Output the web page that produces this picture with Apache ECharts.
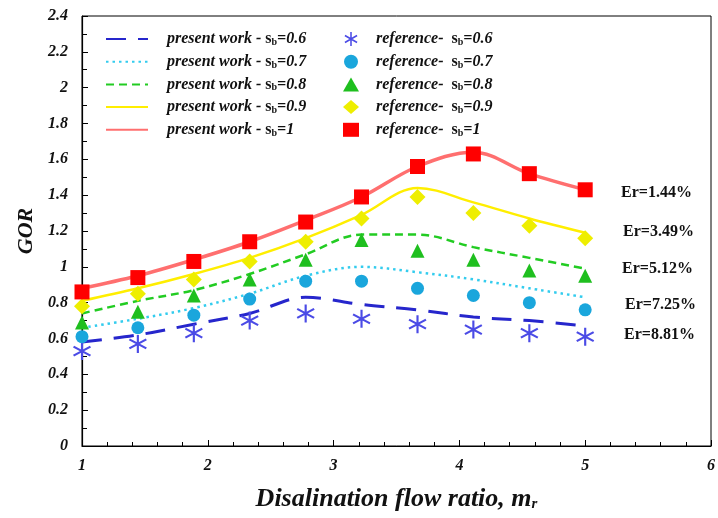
<!DOCTYPE html>
<html>
<head>
<meta charset="utf-8">
<script src="https://cdn.jsdelivr.net/npm/echarts@6/dist/echarts.min.js"></script>
<style>
html, body { margin: 0; padding: 0; background: #fff; }
#chart { width: 718px; height: 518px; }
</style>
</head>
<body>
<div id="chart"></div>
<script>
// mass flow ratio points
const mr = [1, 1.444, 1.889, 2.333, 2.778, 3.222, 3.667, 4.111, 4.556, 5];
const sbLevels = ['0.6', '0.7', '0.8', '0.9', '1'];

// present work (curves)
const present06 = [0.58, 0.62, 0.68, 0.74, 0.83, 0.79, 0.76, 0.72, 0.70, 0.67];
const present07 = [0.66, 0.71, 0.77, 0.85, 0.95, 1.00, 0.97, 0.93, 0.88, 0.83];
const present08 = [0.74, 0.81, 0.87, 0.96, 1.07, 1.18, 1.18, 1.11, 1.05, 0.99];
const present09 = [0.81, 0.88, 0.96, 1.05, 1.16, 1.29, 1.44, 1.36, 1.27, 1.19];
const present10 = [0.88, 0.95, 1.04, 1.14, 1.26, 1.39, 1.56, 1.64, 1.52, 1.43];

// reference (markers)
const ref06 = [0.53, 0.57, 0.63, 0.70, 0.74, 0.71, 0.68, 0.65, 0.63, 0.61];
const ref07 = [0.61, 0.66, 0.73, 0.82, 0.92, 0.92, 0.88, 0.84, 0.80, 0.76];
const ref08 = [0.69, 0.75, 0.84, 0.93, 1.04, 1.15, 1.09, 1.04, 0.98, 0.95];
const ref09 = [0.78, 0.85, 0.93, 1.03, 1.14, 1.27, 1.39, 1.30, 1.23, 1.16];
const ref10 = [0.86, 0.94, 1.03, 1.14, 1.25, 1.39, 1.56, 1.63, 1.52, 1.43];

const errLabels = ['Er=1.44%', 'Er=3.49%', 'Er=5.12%', 'Er=7.25%', 'Er=8.81%'];

const presentData = [present06, present07, present08, present09, present10];
const refData = [ref06, ref07, ref08, ref09, ref10];

// asterisk symbol (three thin bars)
function asterisk () {
  let d = '';
  [90, 30, 150].forEach(function (deg) {
    let t = deg * Math.PI / 180, L = 10, w = 1.1;
    let dx = Math.cos(t), dy = Math.sin(t), nx = -dy, ny = dx;
    let p = [
      [dx * L + nx * w, dy * L + ny * w],
      [dx * L - nx * w, dy * L - ny * w],
      [-dx * L - nx * w, -dy * L - ny * w],
      [-dx * L + nx * w, -dy * L + ny * w]
    ];
    d += 'M' + p.map(function (q) { return q[0].toFixed(2) + ',' + q[1].toFixed(2); }).join('L') + 'Z';
  });
  return 'path://' + d;
}

const lineStyles = [
  { color: '#2626cc', width: 3, type: [20, 12] },
  { color: '#33ccee', width: 2.5, type: [2.5, 4] },
  { color: '#22cc22', width: 2.5, type: [8, 5] },
  { color: '#ffee00', width: 2.5, type: 'solid' },
  { color: '#ff6f6f', width: 3.5, type: 'solid' }
];
const markers = [
  { symbol: asterisk(), size: 18, color: '#4b4be6' },
  { symbol: 'circle', size: 13, color: '#1aa6dc' },
  { symbol: 'triangle', size: 14, color: '#1fbf1f' },
  { symbol: 'diamond', size: 16, color: '#eeee00' },
  { symbol: 'rect', size: 15, color: '#ff0000' }
];

const presentNames = sbLevels.map(function (s) { return 'present work - s_b=' + s; });
const refNames = sbLevels.map(function (s) { return 'reference-  s_b=' + s; });

let series = [];
presentData.forEach(function (vals, i) {
  series.push({
    name: presentNames[i],
    type: 'line',
    smooth: 0.35,
    symbol: 'none',
    data: mr.map(function (x, k) { return [x, vals[k]]; }),
    lineStyle: lineStyles[i],
    itemStyle: { color: lineStyles[i].color },
    z: 2
  });
});
refData.forEach(function (vals, i) {
  series.push({
    name: refNames[i],
    type: 'scatter',
    symbol: markers[i].symbol,
    symbolSize: markers[i].size,
    data: mr.map(function (x, k) { return [x, vals[k]]; }),
    itemStyle: { color: markers[i].color, opacity: 1 },
    z: 3
  });
});

const serifFont = '"Liberation Serif", "Times New Roman", serif';
const legendRich = {
  t: { fontFamily: serifFont, fontStyle: 'italic', fontWeight: 'bold', fontSize: 16, color: '#111' },
  s: { fontFamily: serifFont, fontWeight: 'bold', fontSize: 16, color: '#111' },
  sub: { fontFamily: serifFont, fontWeight: 'bold', fontSize: 10, color: '#111', padding: [7, 0, 0, 0] }
};
function legendFmt (name) {
  let parts = name.split('s_b=');
  return '{t|' + parts[0] + '}{s|s}{sub|b}{t|=' + parts[1] + '}';
}

let myChart = echarts.init(document.getElementById('chart'));
myChart.setOption({
  backgroundColor: '#fff',
  animation: false,
  grid: {
    left: 82, right: 6, top: 16, bottom: 72,
    show: true, borderColor: '#000', borderWidth: 1
  },
  legend: [{
    data: presentNames,
    orient: 'vertical',
    left: 100, top: 26,
    itemWidth: 42, itemHeight: 14, itemGap: 6.2,
    itemStyle: { opacity: 0 },
    formatter: legendFmt,
    textStyle: { padding: [0, 0, 0, 14], rich: legendRich }
  }, {
    data: refNames,
    orient: 'vertical',
    left: 338, top: 26,
    itemWidth: 16, itemHeight: 14, itemGap: 6.2,
    formatter: legendFmt,
    textStyle: { padding: [0, 0, 0, 12], rich: legendRich }
  }],
  xAxis: {
    type: 'value',
    min: 1, max: 6, interval: 1,
    name: 'Disalination flow ratio, m{sub|r}',
    nameLocation: 'middle',
    nameGap: 40,
    nameTextStyle: {
      fontFamily: serifFont, fontStyle: 'italic', fontWeight: 'bold', fontSize: 26, color: '#111',
      rich: { sub: { fontFamily: serifFont, fontStyle: 'italic', fontWeight: 'bold', fontSize: 15, padding: [11, 0, 0, 0], color: '#111' } }
    },
    axisLine: { lineStyle: { color: '#000', width: 1.2 } },
    axisTick: { inside: true, length: 6, lineStyle: { color: '#000' } },
    minorTick: { show: true, splitNumber: 5, length: 4, lineStyle: { color: '#000' } },
    splitLine: { show: false },
    axisLabel: {
      margin: 12,
      fontFamily: serifFont, fontStyle: 'italic', fontWeight: 'bold', fontSize: 16, color: '#111'
    }
  },
  yAxis: {
    type: 'value',
    min: 0, max: 2.4, interval: 0.2,
    name: 'GOR',
    nameLocation: 'middle',
    nameGap: 44,
    nameTextStyle: {
      fontFamily: serifFont, fontStyle: 'italic', fontWeight: 'bold', fontSize: 22, color: '#111'
    },
    axisLine: { show: true, lineStyle: { color: '#000', width: 1.2 } },
    axisTick: { inside: true, length: 6, lineStyle: { color: '#000' } },
    minorTick: { show: true, splitNumber: 2, length: 5, lineStyle: { color: '#000' } },
    splitLine: { show: false },
    axisLabel: {
      margin: 14,
      fontFamily: serifFont, fontStyle: 'italic', fontWeight: 'bold', fontSize: 16, color: '#111'
    }
  },
  graphic: errLabels.map(function (txt, i) {
    let pos = [[621, 193], [623, 232], [622, 269], [625, 305], [624, 335]][i];
    return {
      type: 'text',
      x: pos[0], y: pos[1],
      style: {
        text: txt,
        font: 'bold 16px ' + serifFont,
        fill: '#111',
        verticalAlign: 'middle'
      }
    };
  }),
  series: series
});
window.addEventListener('resize', function () { myChart.resize(); });
</script>
</body>
</html>
